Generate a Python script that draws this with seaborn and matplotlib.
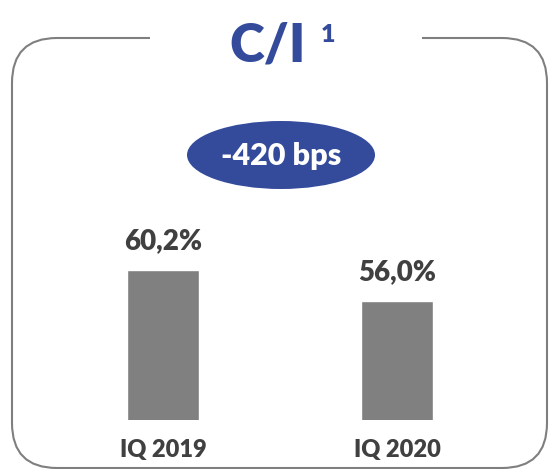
import matplotlib
matplotlib.use("Agg")
import matplotlib.pyplot as plt
import seaborn as sns
import pandas as pd
from matplotlib.patches import FancyBboxPatch, Ellipse, Rectangle

categories = ["IQ 2019", "IQ 2020"]
values = [60.2, 56.0]
value_labels = ["60,2%", "56,0%"]
title = "C/I"
title_sup = "1"
badge = "-420 bps"

sns.set_theme(style="white")
plt.rcParams['font.family'] = ['Lato', 'DejaVu Sans']

W, H = 554, 469
fig = plt.figure(figsize=(W / 100, H / 100), dpi=100)

BLUE = "#344B9B"
GRAY = "#808080"
TXT = "#404040"
BW = 800

# overlay axes in pixel coords
ov = fig.add_axes([0, 0, 1, 1], zorder=0)
ov.set_xlim(0, W)
ov.set_ylim(H, 0)
ov.axis("off")

box = FancyBboxPatch((12, 38), 535, 430, boxstyle="round,pad=0,rounding_size=45",
                     fill=False, edgecolor="#7F7F7F", lw=1.5)
ov.add_patch(box)
ov.add_patch(Rectangle((150, 30), 272, 16, facecolor="white", edgecolor="none", zorder=3))
ov.text(268, 61, title, color=BLUE, fontsize=38, fontweight=BW, ha="center",
        va="baseline", zorder=4)
ov.text(328, 42, title_sup, color=BLUE, fontsize=18, fontweight=BW, ha="center",
        va="baseline", zorder=4)
ov.add_patch(Ellipse((281, 155), 188, 68, facecolor=BLUE, edgecolor="none", zorder=3))
ov.text(281, 156, badge, color="white", fontsize=22, fontweight=BW, ha="center",
        va="center", zorder=4)

# bar axes: bottom at y=420 px, top at y=100 px; x centers at 163 and 397
left_px, right_px = 46, 514
top_px, bot_px = 100, 420
ax = fig.add_axes([left_px / W, 1 - bot_px / H, (right_px - left_px) / W, (bot_px - top_px) / H],
                  zorder=2)
ax.patch.set_alpha(0)
df = pd.DataFrame({"cat": categories, "val": values})
sns.barplot(data=df, x="cat", y="val", color=GRAY, saturation=1, width=0.308, ax=ax)
ax.set_xlim(-0.5, 1.5)
ax.set_ylim(40, 40 + (bot_px - top_px) / 7.45)
ax.bar_label(ax.containers[0], labels=value_labels, padding=11, color=TXT,
             fontsize=20, fontweight=BW)
ax.set_xlabel("")
ax.set_ylabel("")
ax.set_yticks([])
ax.tick_params(axis="x", length=0, pad=14, labelsize=17, labelcolor=TXT)
for t in ax.get_xticklabels():
    t.set_fontweight(BW)
for s in ax.spines.values():
    s.set_visible(False)

fig.savefig("out.png", dpi=100)
